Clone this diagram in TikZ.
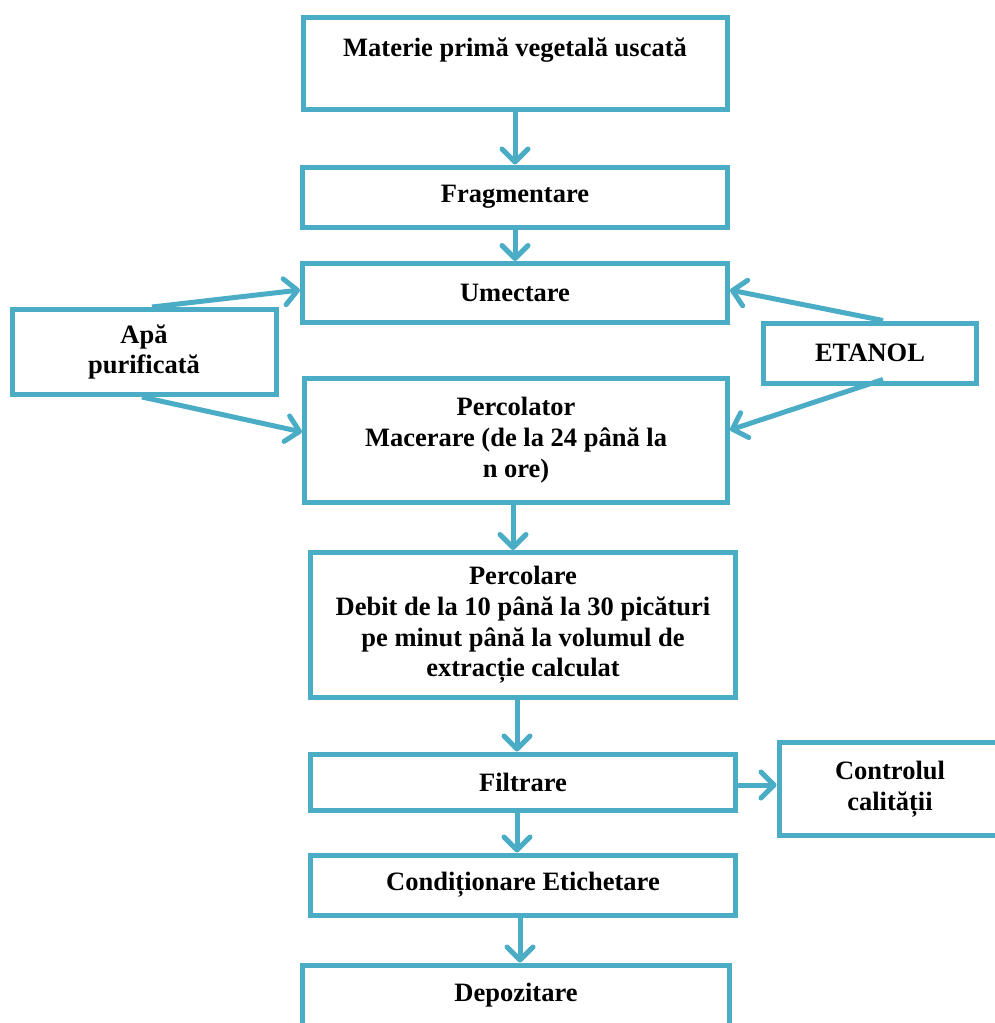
\documentclass[tikz,border=0pt]{standalone}
\usepackage{fontspec}
\setmainfont{Liberation Serif}
\usetikzlibrary{arrows.meta}
\definecolor{bl}{HTML}{4BACC6}
\begin{document}
\begin{tikzpicture}[x=1pt,y=-1pt,
  box/.style={draw=bl, line width=5pt, rectangle, inner sep=0pt, align=center,
    font=\fontsize{26.5}{30.7}\selectfont\bfseries},
  arr/.style={draw=bl, line width=5pt, line join=round,
    -{Straight Barb[length=13pt,width=26pt,round]}}]
\useasboundingbox (0,0) rectangle (995,1023);
\node[box, minimum width=424pt, minimum height=92pt] (m) at (515,63) {Materie primă vegetală uscată\\\mbox{}};
\node[box, minimum width=425pt, minimum height=60pt] (f) at (515,197) {Fragmentare};
\node[box, minimum width=425pt, minimum height=59pt] (u) at (515,293) {Umectare};
\node[box, minimum width=264pt, minimum height=85pt] (a) at (144,352) {Apă\\purificată};
\node[box, minimum width=213pt, minimum height=60pt] (e) at (870,353) {ETANOL};
\node[box, minimum width=423pt, minimum height=124pt] (p) at (516,440) {Percolator\\Macerare (de la 24 până la\\n ore)};
\node[box, minimum width=425pt, minimum height=145pt] (q) at (523,625) {Percolare\\Debit de la 10 până la 30 picături\\pe minut până la volumul de\\extracție calculat};
\node[box, minimum width=425pt, minimum height=56pt] (fi) at (523,782) {Filtrare};
\node[box, minimum width=222pt, minimum height=93pt] (c) at (890,789) {Controlul\\calității};
\node[box, minimum width=425pt, minimum height=60pt] (co) at (523,885) {Condiționare Etichetare};
\node[box, minimum width=427pt, minimum height=60pt] (d) at (516,995) {Depozitare};
% vertical connectors
\draw[arr] (m.south) -- (f.north);
\draw[arr] (f.south) -- (u.north);
\draw[arr] ([xshift=-3pt]p.south) -- ([xshift=-3pt]p.south |- q.north);
\draw[arr] ([xshift=-6pt]q.south) -- ([xshift=-6pt]q.south |- fi.north);
\draw[arr] ([xshift=-6pt]fi.south) -- ([xshift=-6pt]fi.south |- co.north);
\draw[arr] ([xshift=-3pt]co.south) -- ([xshift=-3pt]co.south |- d.north);
\draw[arr] ([yshift=-3pt]fi.east) -- ([yshift=-3pt]fi.east -| c.west);
% side inputs
\draw[arr] ([xshift=8pt]a.north) -- ([yshift=3pt]u.west);
\draw[arr] ([xshift=-2pt]a.south) -- ([yshift=8pt]p.west);
\draw[arr] ([xshift=13pt]e.north) -- ([yshift=3pt]u.east);
\draw[arr] ([xshift=13pt,yshift=6pt]e.south) -- ([yshift=10pt]p.east);
\end{tikzpicture}
\end{document}
